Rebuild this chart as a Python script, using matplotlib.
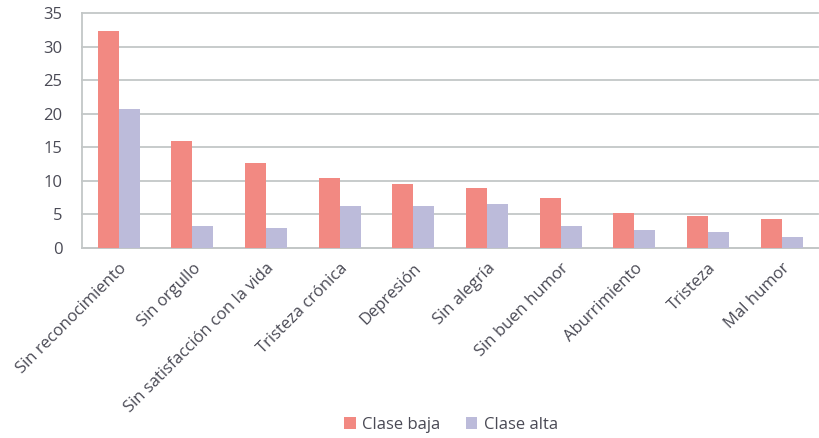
import matplotlib.pyplot as plt
import numpy as np
from matplotlib.patches import Patch

categorias = ["Sin reconocimiento", "Sin orgullo", "Sin satisfacción con la vida",
              "Tristeza crónica", "Depresión", "Sin alegría", "Sin buen humor",
              "Aburrimiento", "Tristeza", "Mal humor"]
clase_baja = [32.3, 15.9, 12.7, 10.4, 9.6, 9.0, 7.5, 5.2, 4.7, 4.3]
clase_alta = [20.7, 3.3, 3.0, 6.2, 6.3, 6.6, 3.3, 2.7, 2.3, 1.6]
yticks = [0, 5, 10, 15, 20, 25, 30, 35]

plt.rcParams['font.family'] = ['Open Sans', 'DejaVu Sans']
color_baja = '#F28982'
color_alta = '#BCBBDA'
texto = '#4A4A55'
gris = '#C3C7C7'

fig = plt.figure(figsize=(8.2, 4.38), dpi=100)
ax = fig.add_axes([0.1, 0.434, 0.898, 0.536])

x = np.arange(len(categorias))
ancho = 0.285
ax.bar(x - ancho / 2, clase_baja, ancho, color=color_baja, zorder=3)
ax.bar(x + ancho / 2, clase_alta, ancho, color=color_alta, zorder=3)

ax.set_xlim(-0.5, len(categorias) - 0.5)
ax.set_ylim(0, 35)
ax.set_yticks(yticks)
ax.yaxis.grid(True, color=gris, linewidth=1.3, zorder=0)
ax.set_axisbelow(True)
for gl in ax.get_ygridlines():
    gl.set_clip_on(False)
for s in ['top', 'right']:
    ax.spines[s].set_visible(False)
ax.spines['left'].set_color(gris)
ax.spines['bottom'].set_color(gris)
ax.spines['left'].set_linewidth(1.3)
ax.spines['bottom'].set_linewidth(1.3)
ax.tick_params(axis='both', length=0, labelsize=12, colors=texto)
ax.tick_params(axis='y', pad=14)
ax.tick_params(axis='x', pad=9)

ax.set_xticks(x)
ax.set_xticklabels(categorias, rotation=45, ha='right', rotation_mode='anchor')

handles = [Patch(facecolor=color_baja), Patch(facecolor=color_alta)]
fig.legend(handles, ['Clase baja', 'Clase alta'], loc='center', bbox_to_anchor=(0.55, 0.03),
           ncol=2, frameon=False, fontsize=12, handlelength=0.7, handleheight=0.7,
           handletextpad=0.4, columnspacing=1.5, labelcolor=texto)

fig.savefig('out.png', dpi=100)
